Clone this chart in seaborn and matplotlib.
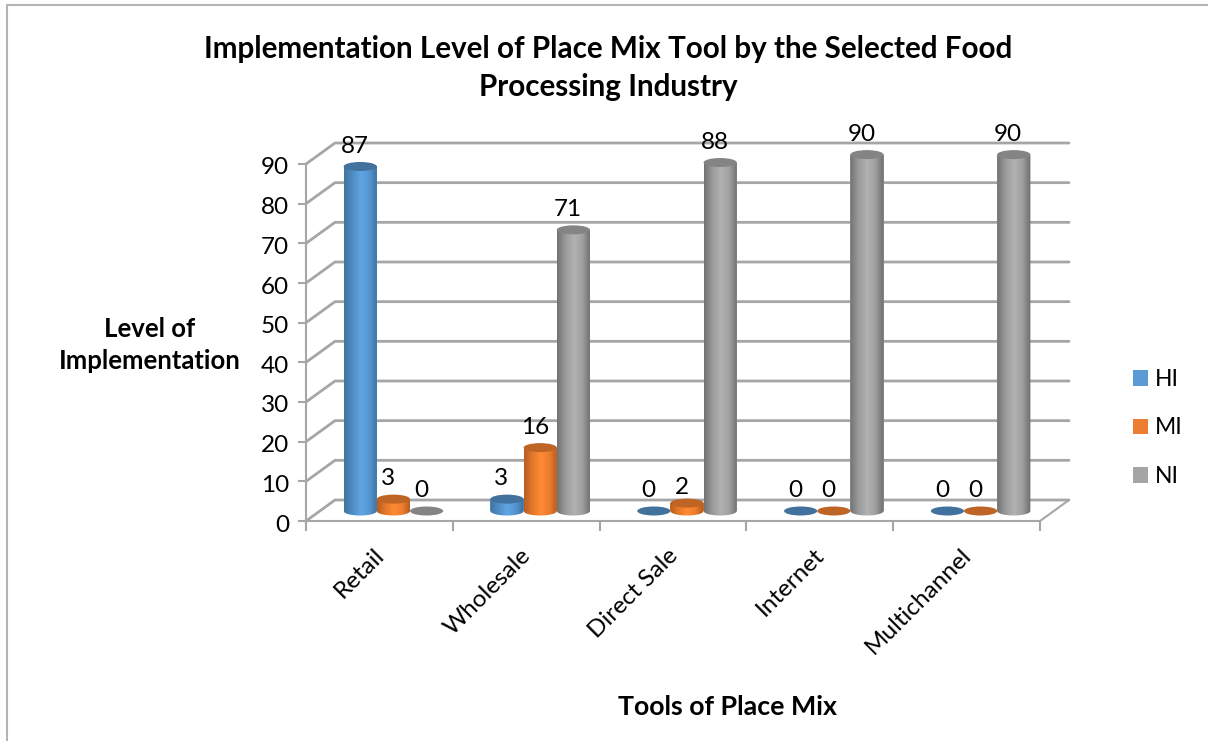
import numpy as np
import pandas as pd
import matplotlib
matplotlib.use("Agg")
import matplotlib.pyplot as plt
import seaborn as sns
from matplotlib.colors import LinearSegmentedColormap
from matplotlib.patches import Ellipse
from matplotlib.path import Path
from matplotlib.transforms import ScaledTranslation

# Survey results per distribution tool
tools = ["Retail", "Wholesale", "Direct Sale", "Internet", "Multichannel"]
levels = ["HI", "MI", "NI"]
hi_values = [87, 3, 0, 0, 0]
mi_values = [3, 16, 2, 0, 0]
ni_values = [0, 71, 88, 90, 90]
value_ticks = list(range(0, 100, 10))

flat_colors = ["#5B9BD5", "#ED7D31", "#A5A5A5"]
top_colors = ["#41719C", "#BE6425", "#848484"]
cylinder_stops = [
    ["#42759F", "#4F8CC4", "#60A5E4", "#5596D2", "#3D6E9C"],
    ["#B55D20", "#E57829", "#FF8A35", "#EC7D2E", "#B0591F"],
    ["#727272", "#9A9A9A", "#B2B2B2", "#A0A0A0", "#6C6C6C"],
]

W, H, DPI = 1208, 741, 100
GRID = "#A6A6A6"
FONT = "Lato"

df = pd.DataFrame({
    "tool": tools * 3,
    "level": np.repeat(levels, len(tools)),
    "value": hi_values + mi_values + ni_values,
})

sns.set_theme(style="white")
plt.rcParams["font.family"] = [FONT, "DejaVu Sans"]
plt.rcParams["text.color"] = "black"


def axes_rect(left, right, top, bottom):
    return [left / W, 1 - bottom / H, (right - left) / W, (bottom - top) / H]


def pixel_shift(dx, dy):
    return ScaledTranslation(dx / DPI, dy / DPI, fig.dpi_scale_trans)


fig = plt.figure(figsize=(W / DPI, H / DPI), dpi=DPI, facecolor="white")

# Chart border, open at the right and the bottom
fig.add_artist(plt.Line2D([6.5 / W, 6.5 / W, 1], [0, 1 - 4.5 / H, 1 - 4.5 / H],
                          color="#B4B4B4", lw=1.5))

# Front plane: value axis, category ticks and the receding grid
frame = fig.add_axes(axes_rect(306, 1040, 164, 521))
frame.set_xlim(-0.5, 4.5)
frame.set_ylim(0, 90)
frame.patch.set_alpha(0)
for side in ["top", "right"]:
    frame.spines[side].set_visible(False)
for side in ["left", "bottom"]:
    frame.spines[side].set_color(GRID)
    frame.spines[side].set_linewidth(1.5)

depth_x = 29 / (734 / 5)
depth_y = 21 / (357 / 90)
for v in value_ticks:
    frame.plot([-0.5, -0.5 + depth_x, 4.5 + depth_x], [v, v + depth_y, v + depth_y],
               color=GRID, lw=2, clip_on=False, zorder=1, solid_joinstyle="miter")
frame.plot([4.5, 4.5 + depth_x], [0, depth_y], color=GRID, lw=1.5, clip_on=False, zorder=1)

frame.set_yticks(value_ticks)
frame.set_yticklabels([str(v) for v in value_ticks], fontsize=17.5, color="black")
frame.tick_params(axis="y", left=True, length=6, width=1.5, color=GRID, pad=6)
for label in frame.get_yticklabels():
    label.set_transform(label.get_transform() + pixel_shift(0, -2))
frame.set_xticks(np.arange(-0.5, 5, 1), minor=True)
frame.tick_params(axis="x", which="minor", bottom=True, length=7, width=1.5, color=GRID)
frame.set_xticks(range(len(tools)))
frame.set_xticklabels(tools, fontsize=17.5, color="black", rotation=45,
                      ha="right", va="top", rotation_mode="anchor")
frame.tick_params(axis="x", which="major", bottom=False, pad=11)
for label in frame.get_xticklabels():
    label.set_transform(label.get_transform() + pixel_shift(-6, 0))

# Bar plane, set back half way into the floor
ax = fig.add_axes(axes_rect(320, 1054, 154.6, 511))
ax.patch.set_alpha(0)
sns.barplot(data=df, x="tool", y="value", hue="level", order=tools, hue_order=levels,
            palette=flat_colors, saturation=1, width=0.678, dodge=True, gap=0,
            errorbar=None, ax=ax, linewidth=0, zorder=2)
ax.set_xlim(-0.5, 4.5)
ax.set_ylim(0, 90)
ax.set_axis_off()

cap_h = 9 / (356.4 / 90)
gradient = np.linspace(0, 1, 128)[None, :]
arc = np.linspace(np.pi, 2 * np.pi, 40)

for j, container in enumerate(ax.containers):
    cmap = LinearSegmentedColormap.from_list(levels[j], cylinder_stops[j])
    z = 3 + j
    for bar in container:
        x0, w, v = bar.get_x(), bar.get_width(), bar.get_height()
        cx = x0 + w / 2
        if v > 0:
            # Shaded shell: straight sides closed by the lower half of the base ellipse
            xs = cx + w / 2 * np.cos(arc)
            ys = cap_h / 2 * np.sin(arc)
            verts = np.column_stack([np.r_[x0, xs, x0 + w, x0], np.r_[v, ys, v, v]])
            shell = Path(verts)
            im = ax.imshow(gradient, extent=[x0, x0 + w, -cap_h, v], aspect="auto",
                           cmap=cmap, zorder=z, interpolation="bilinear")
            im.set_clip_box(fig.bbox)
            im.set_clip_path(shell, transform=ax.transData)
        ax.add_patch(Ellipse((cx, v), w, cap_h, facecolor=top_colors[j], edgecolor="none",
                             zorder=z + 0.5, clip_on=False))
        # The label over a very short bar sits closer to its cap
        lift = 11 if v == 2 else 14.5
        ax.annotate(str(int(v)), (cx, v), xytext=(-4, lift), textcoords="offset points",
                    ha="center", va="center", fontsize=17.5, color="black",
                    annotation_clip=False, zorder=10)
ax.set_xlim(-0.5, 4.5)
ax.set_ylim(0, 90)

handles, labels = ax.get_legend_handles_labels()
ax.legend(handles, labels, frameon=False, fontsize=16.5, loc="upper left",
          bbox_to_anchor=(1133 / W, 1 - 369 / H), bbox_transform=fig.transFigure,
          borderaxespad=0, borderpad=0, handlelength=0.66, handleheight=0.66,
          handletextpad=0.3, labelspacing=1.2, labelcolor="black")

# Titles
fig.text(608 / W, 1 - 68 / H,
         "Implementation Level of Place Mix Tool by the Selected Food\nProcessing Industry",
         ha="center", va="center", fontsize=21.3, fontweight="bold", color="black", linespacing=1.42)
fig.text(150 / W, 1 - 345 / H, "Level of\nImplementation", ha="center", va="center",
         fontsize=18.5, fontweight="bold", color="black", linespacing=1.4)
fig.text(728 / W, 1 - 707 / H, "Tools of Place Mix", ha="center", va="center",
         fontsize=19.3, fontweight="bold", color="black")

fig.savefig("out.png", dpi=DPI, facecolor="white")
